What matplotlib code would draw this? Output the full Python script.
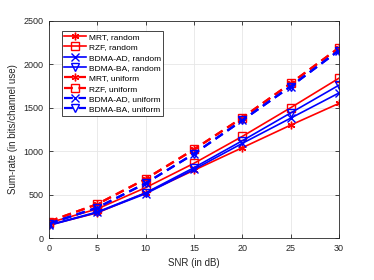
import matplotlib
matplotlib.use('Agg')
import matplotlib.pyplot as plt

plt.rcParams['font.family'] = ['Liberation Sans', 'DejaVu Sans']

snr = [0, 5, 10, 15, 20, 25, 30]

mrt_random = [150, 290, 520, 780, 1040, 1300, 1550]
rzf_random = [175, 335, 580, 860, 1170, 1500, 1840]
bdma_ad_random = [145, 295, 510, 790, 1090, 1380, 1670]
bdma_ba_random = [150, 300, 520, 810, 1120, 1440, 1760]
mrt_uniform = [190, 390, 680, 1020, 1385, 1780, 2190]
rzf_uniform = [190, 390, 680, 1020, 1385, 1780, 2190]
bdma_ad_uniform = [165, 350, 630, 970, 1355, 1745, 2160]
bdma_ba_uniform = [165, 350, 630, 970, 1355, 1745, 2160]

red = '#ff0000'
blue = '#0000ff'

fig = plt.figure(figsize=(3.74, 2.8), dpi=100)
ax = fig.add_axes([0.131, 0.15, 0.775, 0.775])

ms = 5.5
dash = (0, (4, 2.5))
ax.plot(snr, mrt_random, '-', color=red, marker=(6, 2, 0), ms=ms, lw=1.2, label='MRT, random')
ax.plot(snr, rzf_random, '-', color=red, marker='s', mfc='none', ms=ms, lw=1.2, label='RZF, random')
ax.plot(snr, bdma_ad_random, '-', color=blue, marker='x', ms=ms, lw=1.2, label='BDMA-AD, random')
ax.plot(snr, bdma_ba_random, '-', color=blue, marker='v', mfc='none', ms=ms, lw=1.2, label='BDMA-BA, random')
ax.plot(snr, mrt_uniform, ls=dash, color=red, marker=(6, 2, 0), ms=ms, lw=1.6, label='MRT, uniform')
ax.plot(snr, rzf_uniform, ls=dash, color=red, marker='s', mfc='none', ms=ms, lw=1.6, label='RZF, uniform')
ax.plot(snr, bdma_ad_uniform, ls=dash, color=blue, marker='x', ms=ms, lw=1.6, label='BDMA-AD, uniform')
ax.plot(snr, bdma_ba_uniform, ls=dash, color=blue, marker='v', mfc='none', ms=ms, lw=1.6, label='BDMA-BA, uniform')

ax.set_xlim(0, 30)
ax.set_ylim(0, 2500)
ax.set_xticks(snr)
ax.set_yticks([0, 500, 1000, 1500, 2000, 2500])
ax.grid(True, color='#e6e6e6', lw=0.6)
ax.set_axisbelow(True)
for s in ax.spines.values():
    s.set_color('#262626')
    s.set_linewidth(0.6)
ax.tick_params(labelsize=6.5, colors='#262626', direction='in', length=3, width=0.6,
               top=True, right=True, pad=4)
ax.set_xlabel('SNR (in dB)', fontsize=7, color='#262626')
ax.set_ylabel('Sum-rate (in bits/channel use)', fontsize=7, color='#262626')

leg = ax.legend(loc='upper left', fontsize=6.0, labelspacing=0.3, handlelength=2.6,
                handletextpad=0.3, borderpad=0.3, fancybox=False, framealpha=1,
                edgecolor='#262626', bbox_to_anchor=(0.03, 0.975))
leg.get_frame().set_linewidth(0.6)

fig.savefig('out.png', dpi=100)
